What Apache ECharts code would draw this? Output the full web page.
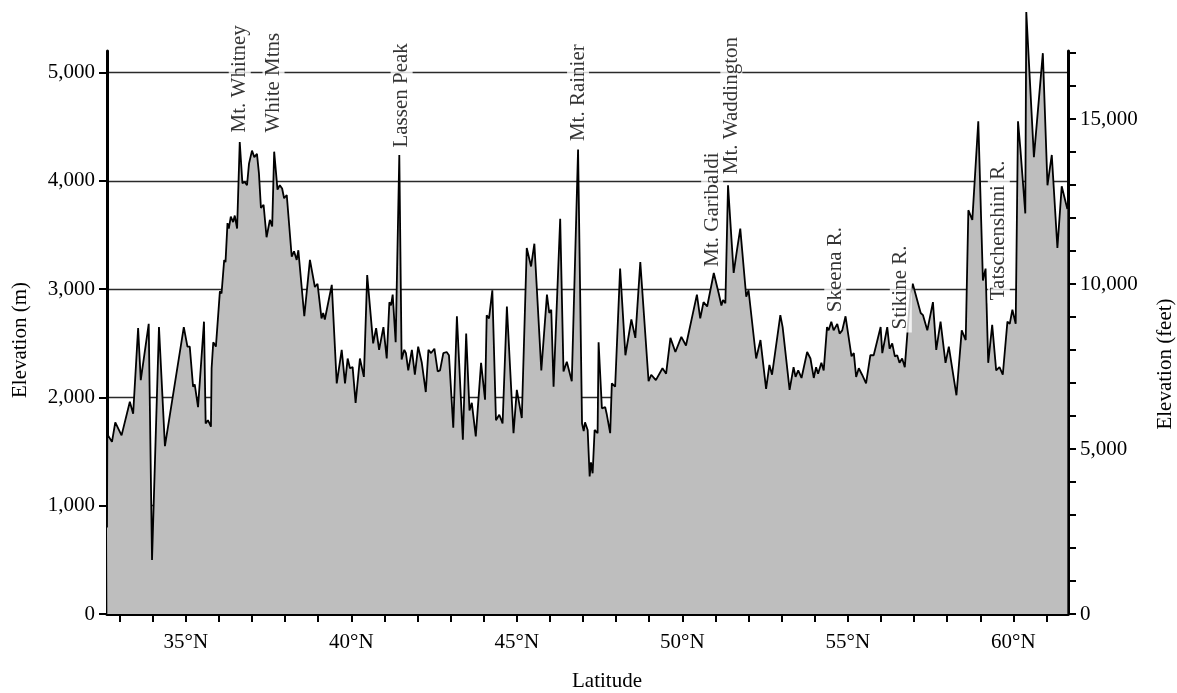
<!DOCTYPE html>
<html>
<head>
<meta charset="utf-8">
<script src="https://cdn.jsdelivr.net/npm/echarts@6/dist/echarts.min.js"></script>
<style>
html,body{margin:0;padding:0;background:#fff;}
#chart{width:1177px;height:693px;}
</style>
</head>
<body>
<div id="chart"></div>
<script>
// ---- data ----
const latitudes = [
32.62,32.63,32.67,32.77,32.87,33.06,33.31,33.41,33.56,33.64,33.88,33.98,34.19,34.37,34.94,35.05,35.12,35.22,35.27,35.37,
35.55,35.60,35.67,35.76,35.78,35.83,35.91,36.03,36.08,36.16,36.20,36.26,36.30,36.36,36.43,36.48,36.55,36.63,36.71,36.78,
36.85,36.91,37.00,37.07,37.15,37.21,37.27,37.35,37.44,37.54,37.61,37.67,37.77,37.84,37.91,37.97,38.05,38.20,38.27,38.35,
38.40,38.58,38.75,38.90,38.98,39.10,39.15,39.20,39.41,39.56,39.71,39.81,39.89,39.96,40.04,40.13,40.26,40.38,40.48,40.66,
40.75,40.84,40.97,41.07,41.15,41.20,41.25,41.34,41.45,41.52,41.60,41.65,41.72,41.83,41.92,42.02,42.13,42.25,42.33,42.41,
42.51,42.61,42.68,42.78,42.88,42.95,43.08,43.19,43.37,43.47,43.57,43.64,43.76,43.92,44.04,44.09,44.16,44.26,44.37,44.47,
44.57,44.70,44.90,45.00,45.15,45.30,45.43,45.53,45.74,45.91,45.98,46.04,46.11,46.31,46.41,46.51,46.66,46.85,46.97,47.02,
47.06,47.14,47.20,47.24,47.29,47.35,47.44,47.47,47.57,47.67,47.72,47.82,47.87,47.97,48.12,48.28,48.46,48.58,48.73,48.98,
49.06,49.20,49.40,49.51,49.64,49.79,49.97,50.11,50.44,50.54,50.64,50.75,50.95,51.10,51.18,51.23,51.30,51.38,51.55,51.65,
51.75,51.93,52.00,52.23,52.36,52.53,52.63,52.71,52.96,53.03,53.24,53.36,53.42,53.50,53.60,53.77,53.87,53.97,54.04,54.10,
54.20,54.27,54.37,54.42,54.50,54.57,54.68,54.75,54.83,54.93,55.11,55.18,55.25,55.33,55.43,55.55,55.68,55.78,55.99,56.04,
56.19,56.26,56.34,56.42,56.49,56.56,56.64,56.72,56.89,56.96,57.20,57.27,57.33,57.40,57.57,57.67,57.80,57.95,58.05,58.28,
58.44,58.56,58.64,58.76,58.94,59.08,59.16,59.24,59.36,59.48,59.58,59.68,59.82,59.89,59.97,60.07,60.14,60.21,60.36,60.39,
60.62,60.89,61.03,61.16,61.33,61.46,61.63
];
const elevations = [
800,1660,1650,1590,1770,1650,1960,1850,2640,2160,2680,500,2650,1550,2650,2470,2470,2100,2120,1910,
2700,1760,1790,1730,2270,2510,2470,2980,2960,3270,3250,3610,3560,3670,3620,3680,3560,4360,3980,3990,
3960,4160,4280,4220,4250,4070,3750,3780,3480,3640,3580,4270,3920,3960,3930,3840,3870,3300,3350,3270,
3360,2750,3270,3020,3050,2730,2780,2720,3040,2130,2440,2130,2360,2270,2280,1950,2360,2190,3130,2500,
2640,2440,2650,2360,2880,2850,2950,2510,4240,2350,2440,2410,2250,2440,2210,2470,2320,2050,2440,2410,
2450,2240,2250,2410,2420,2390,1720,2750,1610,2590,1880,1950,1640,2320,1980,2760,2730,2990,1790,1840,
1760,2840,1670,2070,1810,3380,3210,3420,2250,2950,2780,2810,2100,3650,2240,2330,2150,4290,1760,1690,
1770,1700,1270,1400,1300,1700,1670,2510,1900,1910,1840,1670,2130,2100,3190,2390,2720,2550,3250,2150,
2210,2160,2270,2220,2550,2420,2560,2480,2950,2730,2880,2840,3150,2960,2850,2900,2870,3960,3150,3360,
3560,2930,2990,2360,2530,2080,2300,2210,2760,2650,2070,2280,2190,2250,2180,2420,2360,2180,2280,2220,
2320,2250,2650,2620,2700,2620,2680,2590,2620,2750,2380,2410,2190,2270,2210,2130,2390,2390,2650,2410,
2650,2450,2500,2380,2390,2320,2360,2280,2960,3050,2780,2760,2750,2620,2880,2440,2700,2320,2470,2020,
2620,2530,3730,3640,4550,3080,3190,2320,2670,2250,2280,2210,2700,2680,2810,2680,4550,4300,3700,5560,
4220,5180,3960,4240,3380,3950,3740
];

const peakNames = ['Mt. Whitney','White Mtns','Lassen Peak','Mt. Rainier','Mt. Garibaldi','Mt. Waddington','Skeena R.','Stikine R.','Tatschenshini R.'];
const peakLats  = [36.63, 37.65, 41.52, 46.85, 50.90, 51.48, 54.62, 56.60, 59.56];
const peakLabelElev = [4420, 4420, 4280, 4340, 3180, 4035, 2760, 2600, 2870];

const latMajorTicks = [35,40,45,50,55,60];
const latMinorTicks = [33,34,35,36,37,38,39,40,41,42,43,44,45,46,47,48,49,50,51,52,53,54,55,56,57,58,59,60,61];
const meterTicks = [0,1000,2000,3000,4000,5000];
const feetLabelTicks = [0,5000,10000,15000];
const feetMinorTicks = [0,1000,2000,3000,4000,5000,6000,7000,8000,9000,10000,11000,12000,13000,14000,15000,16000,17000];

const latMin = 32.62, latMax = 61.65;
const elevMaxM = 5200;
const M_TO_FT = 3.28084;

// ---- chart ----
const FONT = 'Liberation Serif';
const profile = latitudes.map((lat, i) => [lat, elevations[i]]);
const peaks = peakNames.map((n, i) => ({ name: n, value: [peakLats[i], peakLabelElev[i]] }));
const fmtThousands = v => Number(v).toLocaleString('en-US');

const chart = echarts.init(document.getElementById('chart'), null, { renderer: 'canvas' });
chart.setOption({
  animation: false,
  backgroundColor: '#fff',
  grid: { left: 107, right: 109, top: 51, bottom: 79, containLabel: false },
  xAxis: {
    type: 'value', min: latMin, max: latMax,
    axisLine: { show: true, onZero: false, lineStyle: { color: '#000', width: 3 } },
    axisTick: { show: true, customValues: latMinorTicks, length: 8, lineStyle: { color: '#000', width: 2 } },
    axisLabel: { customValues: latMajorTicks, formatter: v => v + '°N', margin: 18,
      fontFamily: FONT, fontSize: 21, color: '#000' },
    splitLine: { show: false }
  },
  yAxis: [
    {
      type: 'value', position: 'left', min: 0, max: elevMaxM,
      axisLine: { show: true, lineStyle: { color: '#000', width: 3 } },
      axisTick: { show: true, customValues: meterTicks, length: 8, lineStyle: { color: '#000', width: 2 } },
      axisLabel: { customValues: meterTicks, formatter: fmtThousands, margin: 12,
        fontFamily: FONT, fontSize: 21, color: '#000' },
      splitLine: { show: true, lineStyle: { color: '#2a2a2a', width: 1.4 } }
    },
    {
      type: 'value', position: 'right', min: 0, max: elevMaxM * M_TO_FT,
      axisLine: { show: true, lineStyle: { color: '#000', width: 3 } },
      axisTick: { show: true, customValues: feetMinorTicks, length: 8, lineStyle: { color: '#000', width: 2 } },
      axisLabel: { customValues: feetLabelTicks, formatter: fmtThousands, margin: 12,
        fontFamily: FONT, fontSize: 21, color: '#000' },
      splitLine: { show: false }
    }
  ],
  series: [
    {
      type: 'line', data: profile, xAxisIndex: 0, yAxisIndex: 0,
      symbol: 'none', clip: false, silent: true, z: 2,
      lineStyle: { color: '#000', width: 1.8 },
      areaStyle: { color: '#bebebe', opacity: 1 }
    },
    {
      type: 'scatter', data: peaks, xAxisIndex: 0, yAxisIndex: 0,
      symbolSize: 0, silent: true, z: 5, clip: false,
      label: {
        show: true, formatter: '{b}', rotate: 90, position: [0, 0],
        align: 'left', verticalAlign: 'middle',
        fontFamily: FONT, fontSize: 21, lineHeight: 20, color: '#000',
        backgroundColor: '#fff', padding: [1, 3, 1, 3]
      }
    }
  ],
  graphic: [
    { type: 'text', x: 20, y: 340, rotation: Math.PI / 2,
      style: { text: 'Elevation (m)', font: '21px "Liberation Serif"', fill: '#000', align: 'center', verticalAlign: 'middle' } },
    { type: 'text', x: 1165, y: 364, rotation: Math.PI / 2,
      style: { text: 'Elevation (feet)', font: '21px "Liberation Serif"', fill: '#000', align: 'center', verticalAlign: 'middle' } },
    { type: 'text', x: 607, y: 681,
      style: { text: 'Latitude', font: '21px "Liberation Serif"', fill: '#000', align: 'center', verticalAlign: 'middle' } }
  ]
});
</script>
</body>
</html>
